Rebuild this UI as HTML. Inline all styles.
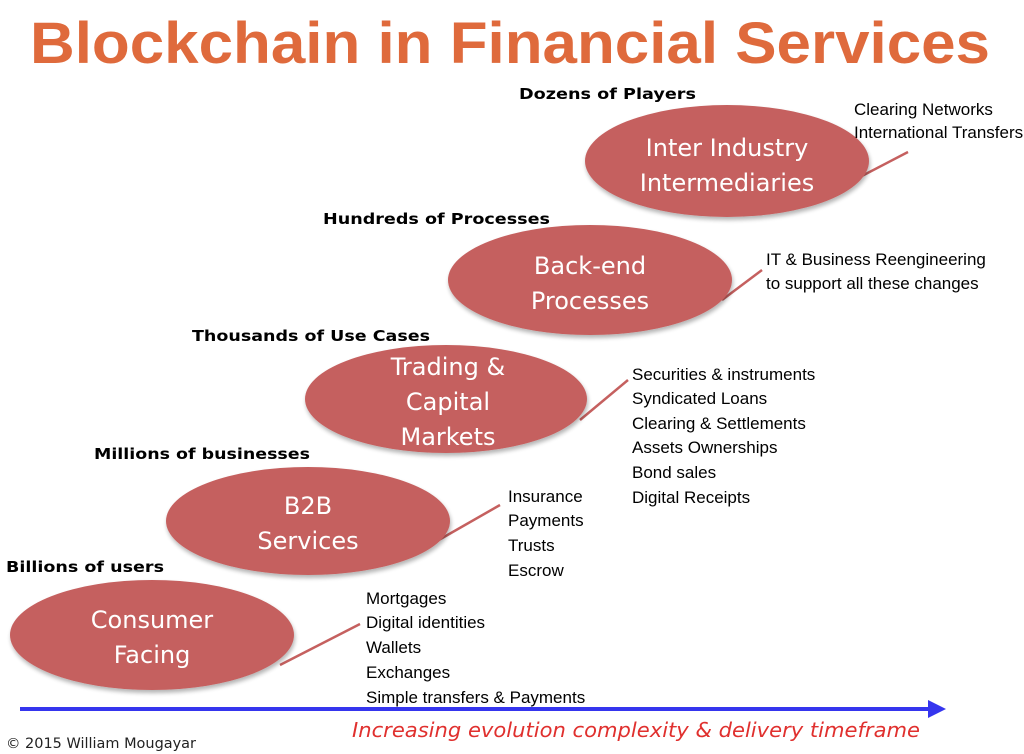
<!DOCTYPE html>
<html><head><meta charset="utf-8"><style>
html,body{margin:0;padding:0;background:#fff;}
svg{display:block}
.h{font-family:"DejaVu Sans","Liberation Sans",sans-serif;font-weight:bold;font-size:15px;fill:#000}
.l{font-family:"Liberation Sans",sans-serif;font-size:17px;fill:#000}
.e{font-family:"DejaVu Sans","Liberation Sans",sans-serif;font-size:24px;fill:#fff;text-anchor:middle}
</style></head><body>
<svg width="1024" height="754" viewBox="0 0 1024 754" xmlns="http://www.w3.org/2000/svg">
<defs>
<filter id="s" x="-10%" y="-10%" width="130%" height="140%"><feGaussianBlur in="SourceAlpha" stdDeviation="2"/><feOffset dx="1" dy="3"/><feComponentTransfer><feFuncA type="linear" slope="0.3"/></feComponentTransfer><feMerge><feMergeNode/><feMergeNode in="SourceGraphic"/></feMerge></filter>
</defs>
<text x="30" y="63" font-family="Liberation Sans, sans-serif" font-weight="bold" font-size="58" fill="#df6a3c" textLength="960" lengthAdjust="spacingAndGlyphs">Blockchain in Financial Services</text>

<g stroke="#c5605f" stroke-width="2.5">
<line x1="280" y1="665" x2="360" y2="624"/>
<line x1="430" y1="545" x2="500" y2="505"/>
<line x1="580" y1="420" x2="628" y2="380"/>
<line x1="722" y1="300" x2="762" y2="270"/>
<line x1="858" y1="178" x2="908" y2="152"/>
</g>
<g fill="#c5605f" filter="url(#s)">
<ellipse cx="152" cy="635" rx="142" ry="55"/>
<ellipse cx="308" cy="521" rx="142" ry="54"/>
<ellipse cx="446" cy="399" rx="141" ry="54"/>
<ellipse cx="590" cy="280" rx="142" ry="55"/>
<ellipse cx="727" cy="161" rx="142" ry="56"/>
</g>
<text class="e" x="152" y="628">Consumer</text><text class="e" x="152" y="663">Facing</text>
<text class="e" x="308" y="514">B2B</text><text class="e" x="308" y="549">Services</text>
<text class="e" x="448" y="375">Trading &amp;</text><text class="e" x="448" y="410">Capital</text><text class="e" x="448" y="445">Markets</text>
<text class="e" x="590" y="274">Back-end</text><text class="e" x="590" y="309">Processes</text>
<text class="e" x="727" y="156">Inter Industry</text><text class="e" x="727" y="191">Intermediaries</text>

<text class="h" x="519" y="99" textLength="177" lengthAdjust="spacingAndGlyphs">Dozens of Players</text>
<text class="h" x="323" y="224" textLength="227" lengthAdjust="spacingAndGlyphs">Hundreds of Processes</text>
<text class="h" x="192" y="341" textLength="238" lengthAdjust="spacingAndGlyphs">Thousands of Use Cases</text>
<text class="h" x="94" y="459" textLength="216" lengthAdjust="spacingAndGlyphs">Millions of businesses</text>
<text class="h" x="6" y="572" textLength="158" lengthAdjust="spacingAndGlyphs">Billions of users</text>

<g class="l">
<text class="l" x="854" y="115">Clearing Networks</text>
<text class="l" x="854" y="138">International Transfers</text>
<text class="l" x="766" y="265">IT &amp; Business Reengineering</text>
<text class="l" x="766" y="289">to support all these changes</text>
<text class="l" x="632" y="380">Securities &amp; instruments</text>
<text class="l" x="632" y="404">Syndicated Loans</text>
<text class="l" x="632" y="429">Clearing &amp; Settlements</text>
<text class="l" x="632" y="453">Assets Ownerships</text>
<text class="l" x="632" y="478">Bond sales</text>
<text class="l" x="632" y="503">Digital Receipts</text>
<text class="l" x="508" y="502">Insurance</text>
<text class="l" x="508" y="526">Payments</text>
<text class="l" x="508" y="551">Trusts</text>
<text class="l" x="508" y="576">Escrow</text>
<text class="l" x="366" y="604">Mortgages</text>
<text class="l" x="366" y="628">Digital identities</text>
<text class="l" x="366" y="653">Wallets</text>
<text class="l" x="366" y="678">Exchanges</text>
<text class="l" x="366" y="703">Simple transfers &amp; Payments</text>
</g>

<line x1="20" y1="709" x2="932" y2="709" stroke="#3535ee" stroke-width="4"/>
<polygon points="928,700 946,709 928,718" fill="#3535ee"/>
<text x="352" y="737" font-family="DejaVu Sans, Liberation Sans, sans-serif" font-style="italic" font-size="20" fill="#e0302e" textLength="568" lengthAdjust="spacingAndGlyphs">Increasing evolution complexity &amp; delivery timeframe</text>
<text x="6" y="748" font-family="DejaVu Sans, Liberation Sans, sans-serif" font-size="14" fill="#222" textLength="190" lengthAdjust="spacingAndGlyphs">© 2015 William Mougayar</text>
</svg>
</body></html>
